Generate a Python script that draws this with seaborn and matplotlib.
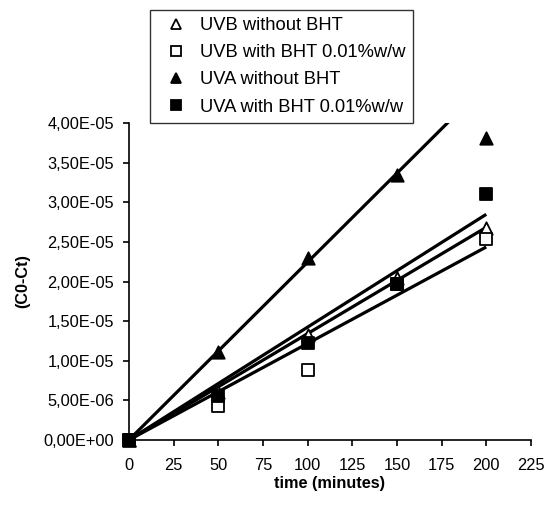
import numpy as np
import pandas as pd
import matplotlib
matplotlib.use("Agg")
import matplotlib.pyplot as plt
import seaborn as sns
from matplotlib.ticker import FuncFormatter, MultipleLocator

# time points (minutes)
times = [0, 50, 100, 150, 200]

labels = ["UVB without BHT", "UVB with BHT 0.01%w/w",
          "UVA without BHT", "UVA with BHT 0.01%w/w"]

# (C0-Ct) values
uvb_without = [0.0, 0.60e-5, 1.33e-5, 2.05e-5, 2.68e-5]
uvb_with = [0.0, 0.43e-5, 0.886e-5, 1.97e-5, 2.54e-5]
uva_without = [0.0, 1.11e-5, 2.30e-5, 3.35e-5, 3.81e-5]
uva_with = [0.0, 0.55e-5, 1.23e-5, 1.97e-5, 3.11e-5]

# trendline slopes (through origin)
trend_slopes = [1.342e-7, 1.218e-7, 2.244e-7, 1.424e-7]

markers = ["^", "s", "^", "s"]
faces = ["white", "white", "black", "black"]

plt.rcParams['font.family'] = ['Liberation Sans', 'DejaVu Sans']

fig = plt.figure(figsize=(5.46, 5.05), dpi=100)
ax = fig.add_axes([0.236, 0.1287, 0.7364, 0.6277])

df = pd.DataFrame({"time": times * 4,
                   "value": uvb_without + uvb_with + uva_without + uva_with,
                   "series": np.repeat(labels, len(times))})

# trend lines first
for slope in trend_slopes:
    xs = np.array([times[0], times[-1]])
    ax.plot(xs, slope * xs, color="black", lw=2.3, zorder=2, solid_capstyle="butt")

handles = []
for lab, mk, fc in zip(labels, markers, faces):
    sub = df[df["series"] == lab]
    sns.scatterplot(data=sub, x="time", y="value", marker=mk, s=80,
                    facecolor=fc, edgecolor="black", linewidth=1.3,
                    ax=ax, zorder=3, clip_on=False)
    handles.append(plt.Line2D([], [], ls="", marker=mk, markersize=6.5,
                              markerfacecolor=fc, markeredgecolor="black",
                              markeredgewidth=1.3))

ax.set_xlim(0, 225)
ax.set_ylim(0, 4e-5)
ax.xaxis.set_major_locator(MultipleLocator(25))
ax.yaxis.set_major_locator(MultipleLocator(5e-6))


def sci_comma(v, pos):
    s = "%.2E" % v
    return s.replace(".", ",")


ax.yaxis.set_major_formatter(FuncFormatter(sci_comma))
ax.yaxis.get_offset_text().set_visible(False)

for side in ["top", "right"]:
    ax.spines[side].set_visible(False)
for side in ["left", "bottom"]:
    ax.spines[side].set_color("black")
    ax.spines[side].set_linewidth(1.2)

ax.tick_params(direction="out", length=4, width=1.2, colors="black",
               labelsize=11.8)
ax.tick_params(axis="y", pad=6.5)
ax.tick_params(axis="x", pad=9)
ax.set_xlabel("time (minutes)", fontsize=11.7, fontweight="bold", labelpad=2)
ax.set_ylabel("(C0-Ct)", fontsize=11.7, fontweight="bold", labelpad=10)

leg = fig.legend(handles, labels, loc="upper left",
                 bbox_to_anchor=(150 / 546, 1 - 10 / 505),
                 fontsize=13.2, frameon=True, fancybox=False,
                 borderpad=0.4, labelspacing=0.55, handletextpad=0.35,
                 handlelength=2.0, borderaxespad=0)
leg.get_frame().set_edgecolor("black")
leg.get_frame().set_linewidth(1.0)

fig.savefig("out.png", dpi=100)
